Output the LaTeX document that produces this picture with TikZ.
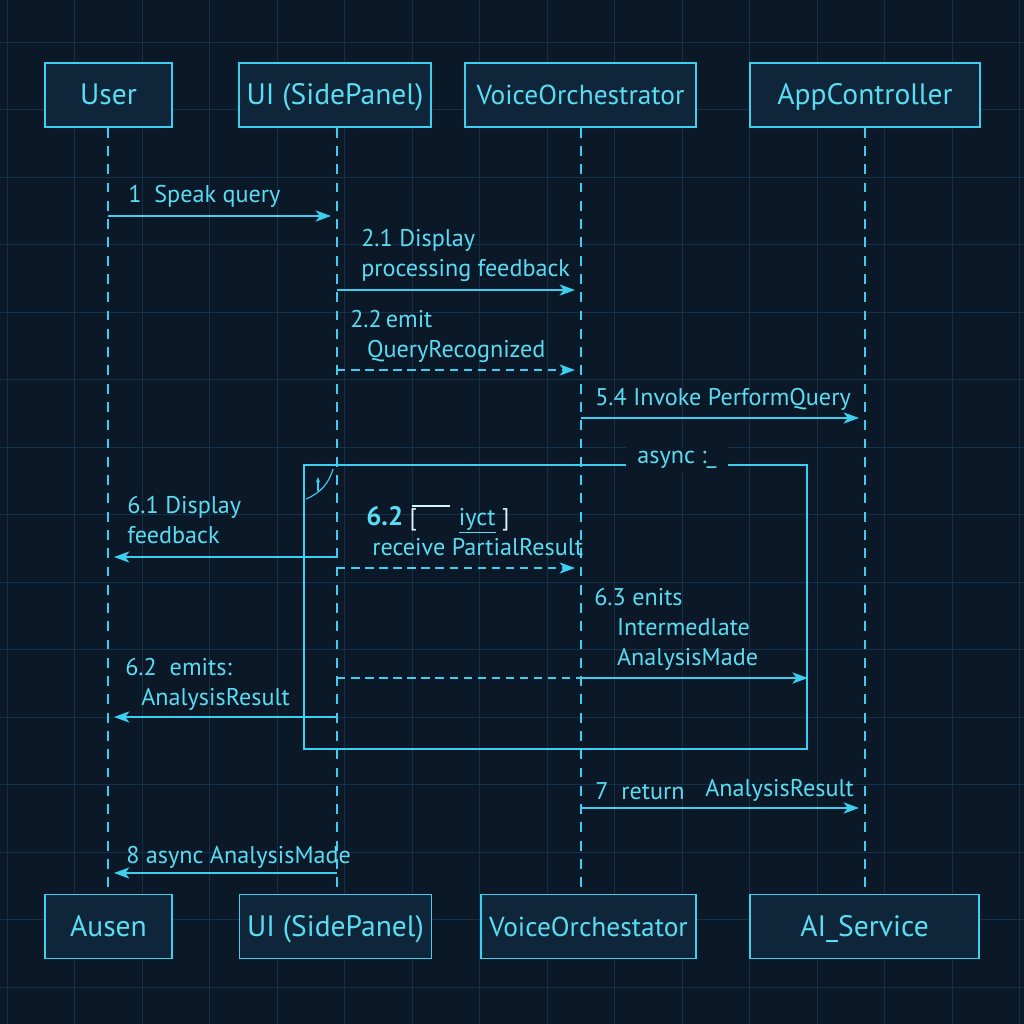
\documentclass[tikz,border=0pt]{standalone}
\usepackage{fontspec}
\setmainfont{PT Sans}
\usetikzlibrary{arrows.meta,positioning,calc}
\definecolor{SeqBack}{HTML}{0B1828}
\definecolor{SeqGrid}{HTML}{15304A}
\definecolor{SeqCyan}{HTML}{3CCFEF}
\definecolor{SeqText}{HTML}{5ADCF2}
\definecolor{SeqBox}{HTML}{0F263A}

\tikzset{
  actor/.style={draw=SeqCyan, line width=1.1pt, fill=SeqBox, text=SeqText,
    font=\fontsize{21}{24}\selectfont, minimum height=1.6cm, inner sep=0pt,
    text height=14pt, text depth=0pt},
  life/.style={SeqCyan, line width=0.9pt, dash pattern=on 7pt off 6pt},
  msg/.style={SeqCyan, line width=1.1pt, -{Stealth[length=11pt,width=8pt,inset=3pt]}, shorten >=0.15cm},
  rmsg/.style={msg, dash pattern=on 6pt off 4pt},
  lbl/.style={text=SeqText, font=\fontsize{17.2}{21}\selectfont, align=left, inner sep=0pt},
}

\begin{document}
\begin{tikzpicture}[x=0.025cm, y=-0.025cm]
  \clip (0,0) rectangle (1024,1024);
  \fill[SeqBack] (0,0) rectangle (1024,1024);
  % grid
  \foreach \gx in {0,...,15}
    \draw[SeqGrid, line width=0.6pt] (7+67.5*\gx,0) -- ++(0,1024);
  \foreach \gy in {-1,...,14}
    \draw[SeqGrid, line width=0.6pt] (0,42+67.5*\gy) -- ++(1024,0);

  % participants
  \node[actor, minimum width=3.175cm] (usr) at (108.5,95) {User};
  \node[actor, minimum width=4.8cm] (ui) at (335,95) {UI (SidePanel)};
  \node[actor, minimum width=5.775cm, font=\fontsize{19.5}{24}\selectfont] (vo) at (580.5,95) {VoiceOrchestrator};
  \node[actor, minimum width=5.75cm] (ac) at (865,95) {AppController};

  \node[actor, minimum width=3.175cm] (usrB) at (108.5,926.5) {Ausen};
  \node[actor, minimum width=4.8cm] (uiB) at (335.5,926.5) {UI (SidePanel)};
  \node[actor, minimum width=5.375cm, font=\fontsize{19.5}{24}\selectfont] (voB) at (588.5,926.5) {VoiceOrchestator};
  \node[actor, minimum width=5.725cm] (aiB) at (864.5,926.5) {AI\_Service};

  % lifelines
  \coordinate (uL) at (108,0);
  \coordinate (iL) at (337,0);
  \coordinate (vL) at (581,0);
  \coordinate (aL) at (865,0);
  \draw[life] (uL |- usr.south) -- (uL |- usrB.north);
  \draw[life] (iL |- ui.south) -- (iL |- uiB.north);
  \draw[life] (vL |- vo.south) -- (vL |- voB.north);
  \draw[life] (aL |- ac.south) -- (aL |- aiB.north);

  % async frame
  \node[draw=SeqCyan, line width=1.1pt, minimum width=12.575cm, minimum height=7.1cm,
    inner sep=0pt] (frm) at (555.5,607) {};
  \node[lbl, fill=SeqBack, inner xsep=8pt, inner ysep=3pt] (asy) at (677,460) {async :\_};
  \draw[SeqCyan, line width=0.8pt, -{Stealth[length=4pt]}] (318,491) -- (318,477);
  \draw[SeqCyan, line width=0.8pt] (306,499) to[bend right=25] (333,469);

  % messages
  \draw[msg] (uL |- 0,216) -- (iL |- 0,216);
  \node[lbl, anchor=base west] (m1) at (128,203) {1\ \ Speak query};

  \draw[msg] (iL |- 0,290) -- (vL |- 0,290);
  \node[lbl, anchor=base west] (m21) at (361,276) {2.1 Display\\processing feedback};

  \draw[rmsg] (iL |- 0,370) -- (vL |- 0,370);
  \node[lbl, anchor=base west] (m22) at (350,357) {2.2\,emit\\\hspace{0.42cm}QueryRecognized};

  \draw[msg] (vL |- 0,418) -- (aL |- 0,418);
  \node[lbl, anchor=base west] (m54) at (595,405) {5.4 Invoke PerformQuery};

  \draw[msg] (iL |- 0,557) -- (uL |- 0,557);
  \node[lbl, anchor=base west] (m61) at (127,543) {6.1 Display\\feedback};

  \draw[rmsg] (iL |- 0,568) -- (vL |- 0,568);
  \node[lbl, anchor=base west] (m62) at (366,555)
    {{\fontsize{19}{21}\selectfont\textbf{6.2}} \textcolor{white!80!SeqCyan}{[}\hspace{1.05cm}\underline{iyct}\ \textcolor{white!80!SeqCyan}{]}\\
     \hspace{0.15cm}receive PartialResult};
  \draw[white!80!SeqCyan, line width=1pt] (412,506) -- (450,506);

  \draw[SeqCyan, line width=1.1pt, dash pattern=on 6pt off 4pt] (iL |- 0,678) -- (vL |- 0,678);
  \draw[msg, shorten >=0pt] (vL |- 0,678) -- (frm.east |- 0,678);
  \node[lbl, anchor=base west] (m63) at (594,665)
    {6.3 enits\\\hspace{0.57cm}Intermedlate\\\hspace{0.57cm}AnalysisMade};

  \draw[SeqCyan, line width=2pt] (frm.west |- 0,717) -- (iL |- 0,717);
  \draw[msg] (iL |- 0,717) -- (uL |- 0,717);
  \node[lbl, anchor=base west] (m62b) at (125,705) {6.2\ \ emits:\\\hspace{0.4cm}AnalysisResult};

  \draw[msg] (vL |- 0,808) -- (aL |- 0,808);
  \node[lbl, anchor=base west] (m7) at (595,799) {7\ \ return};
  \node[lbl, anchor=base west] (m7b) at (705,796) {AnalysisResult};

  \draw[msg] (iL |- 0,873) -- (uL |- 0,873);
  \node[lbl, anchor=base west] (m8) at (126,863) {8 async\ AnalysisMade};
\end{tikzpicture}
\end{document}
